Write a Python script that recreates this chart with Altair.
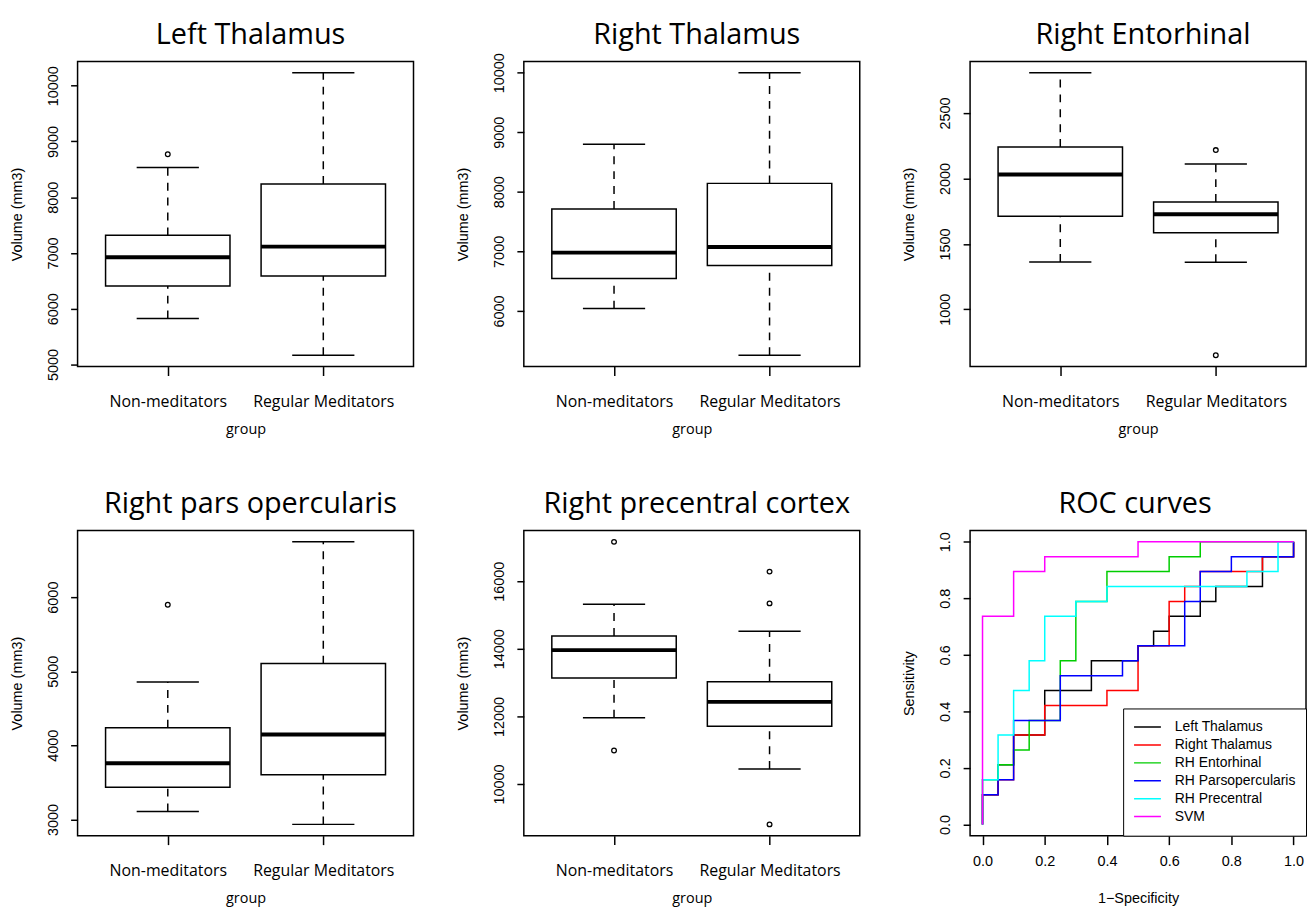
import altair as alt
import pandas as pd

# ---------------- data ----------------
GROUPS = ["Non-meditators", "Regular Meditators"]
GROUP_POS = [1, 2]

# box statistics: [lower whisker, Q1, median, Q3, upper whisker]
LT_NM = [5825, 6407, 6924, 7316, 8533]
LT_RM = [5166, 6586, 7114, 8236, 10232]
LT_OUT_NM = [8771]
LT_OUT_RM = []

RT_NM = [6039, 6545, 6979, 7713, 8798]
RT_RM = [5255, 6762, 7074, 8142, 10000]
RT_OUT_NM = []
RT_OUT_RM = []

RE_NM = [1362, 1711, 2030, 2240, 2808]
RE_RM = [1360, 1585, 1726, 1820, 2111]
RE_OUT_NM = []
RE_OUT_RM = [2217, 649]

PO_NM = [3107, 3433, 3759, 4237, 4853]
PO_RM = [2933, 3603, 4147, 5103, 6746]
PO_OUT_NM = [5897]
PO_OUT_RM = []

PC_NM = [11961, 13139, 13961, 14382, 15315]
PC_RM = [10443, 11706, 12430, 13027, 14519]
PC_OUT_NM = [17164, 10992]
PC_OUT_RM = [16284, 15344, 8806]

LT_TICKS = [5000, 6000, 7000, 8000, 9000, 10000]
RT_TICKS = [6000, 7000, 8000, 9000, 10000]
RE_TICKS = [1000, 1500, 2000, 2500]
PO_TICKS = [3000, 4000, 5000, 6000]
PC_TICKS = [10000, 12000, 14000, 16000]
ROC_TICKS = [0.0, 0.2, 0.4, 0.6, 0.8, 1.0]

# ROC curves (1 - specificity, sensitivity)
CURVES = ["Left Thalamus", "Right Thalamus", "RH Entorhinal",
          "RH Parsopercularis", "RH Precentral", "SVM"]
COLORS = ["#000000", "#FF0000", "#00CD00", "#0000FF", "#00FFFF", "#FF00FF"]

LT_FPR = [0, 0, .05, .05, .10, .10, .20, .20, .35, .35, .50, .50, .55, .55,
          .60, .60, .70, .70, .75, .75, .90, .90, .90, 1.0, 1.0]
LT_TPR = [0, .105, .105, .211, .211, .316, .316, .474, .474, .579, .579, .632,
          .632, .684, .684, .737, .737, .789, .789, .842, .842, .895, .947, .947, 1.0]

RT_FPR = [0, 0, .05, .05, .10, .10, .20, .20, .40, .40, .50, .50, .60, .60,
          .65, .65, .70, .70, .90, .90, 1.0, 1.0]
RT_TPR = [0, .105, .105, .158, .158, .316, .316, .421, .421, .474, .474, .632,
          .632, .789, .789, .842, .842, .895, .895, .947, .947, 1.0]

RE_FPR = [0, 0, .05, .05, .10, .10, .15, .15, .25, .25, .30, .30, .40, .40,
          .60, .60, .70, .70, 1.0]
RE_TPR = [0, .158, .158, .211, .211, .263, .263, .368, .368, .579, .579, .789,
          .789, .895, .895, .947, .947, 1.0, 1.0]

PO_FPR = [0, 0, .05, .05, .10, .10, .25, .25, .45, .45, .50, .50, .65, .65,
          .70, .70, .80, .80, 1.0, 1.0]
PO_TPR = [0, .105, .105, .158, .158, .368, .368, .526, .526, .579, .579, .632,
          .632, .789, .789, .895, .895, .947, .947, 1.0]

PC_FPR = [0, 0, .05, .05, .10, .10, .15, .15, .20, .20, .30, .30, .40, .40,
          .85, .85, .95, .95, 1.0]
PC_TPR = [0, .158, .158, .316, .316, .474, .474, .579, .579, .737, .737, .789,
          .789, .842, .842, .895, .895, 1.0, 1.0]

SVM_FPR = [0, 0, .10, .10, .20, .20, .50, .50, 1.0]
SVM_TPR = [0, .737, .737, .895, .895, .947, .947, 1.0, 1.0]

# ---------------- style ----------------
HELV = "Liberation Sans"
CALI = "Open Sans"
W, H = 338, 307
BOX_HALF = 0.4
CAP_HALF = 0.2
EXT = 0.04
LW = 1.5


def extend(lo, hi):
    d = (hi - lo) * EXT
    return [lo - d, hi + d]


def y_axis(ticks, fmt, title):
    return alt.Axis(values=ticks, format=fmt, title=title,
                    labelAngle=270, labelAlign="center", labelBaseline="bottom",
                    labelFont=HELV, labelFontSize=14.5, titleFont=HELV,
                    titleFontSize=14.5, tickSize=7, labelPadding=10.5,
                    minExtent=32, maxExtent=32, titlePadding=21.5,
                    labelOverlap=False, labelFlush=False, labelBound=False)


def title_params(text, offset=12, dx=5):
    return alt.TitleParams(text=text, font=CALI, fontSize=29, fontWeight="normal",
                           color="black", offset=offset, dx=dx, frame="group",
                           anchor="middle")


def box_panel(title, nm, rm, out_nm, out_rm, ticks, toff=12, xtpad=13):
    stats = pd.DataFrame({
        "pos": GROUP_POS,
        "lo": [nm[0], rm[0]], "q1": [nm[1], rm[1]], "med": [nm[2], rm[2]],
        "q3": [nm[3], rm[3]], "hi": [nm[4], rm[4]],
    })
    outs = pd.DataFrame({
        "pos": [GROUP_POS[0]] * len(out_nm) + [GROUP_POS[1]] * len(out_rm),
        "v": list(out_nm) + list(out_rm),
    })
    allv = list(nm) + list(rm) + list(out_nm) + list(out_rm)
    xs = alt.Scale(domain=extend(0.5, 2.5), nice=False, zero=False)
    ys = alt.Scale(domain=extend(min(allv), max(allv)), nice=False, zero=False)
    label_expr = "[" + ",".join("'%s'" % g for g in GROUPS) + "][datum.value - 1]"
    xaxis = alt.Axis(values=GROUP_POS, labelExpr=label_expr, title="group",
                     labelFont=CALI, labelFontSize=16, titleFont=CALI,
                     titleFontSize=14.5, tickSize=9, labelPadding=18,
                     minExtent=43, maxExtent=43, titlePadding=xtpad,
                     labelFlush=False, labelOverlap=False, labelBound=False)
    yaxis = y_axis(ticks, "d", "Volume (mm3)")

    def X(f):
        return alt.X(f, scale=xs, axis=xaxis)

    def Y(f):
        return alt.Y(f, scale=ys, axis=yaxis)

    base = alt.Chart(stats).transform_calculate(
        bl=f"datum.pos - {BOX_HALF}", br=f"datum.pos + {BOX_HALF}",
        cl=f"datum.pos - {CAP_HALF}", cr=f"datum.pos + {CAP_HALF}",
    )
    dash = [8, 7]
    wh_up = base.mark_rule(color="black", strokeWidth=LW, strokeDash=dash).encode(
        x=X("pos:Q"), y=Y("q3:Q"), y2="hi:Q")
    wh_lo = base.mark_rule(color="black", strokeWidth=LW, strokeDash=dash).encode(
        x=X("pos:Q"), y=Y("lo:Q"), y2="q1:Q")
    cap_up = base.mark_rule(color="black", strokeWidth=LW).encode(
        x=X("cl:Q"), x2="cr:Q", y=Y("hi:Q"))
    cap_lo = base.mark_rule(color="black", strokeWidth=LW).encode(
        x=X("cl:Q"), x2="cr:Q", y=Y("lo:Q"))
    box = base.mark_rect(fill="white", stroke="black", strokeWidth=LW).encode(
        x=X("bl:Q"), x2="br:Q", y=Y("q1:Q"), y2="q3:Q")
    med = base.mark_rule(color="black", strokeWidth=4).encode(
        x=X("bl:Q"), x2="br:Q", y=Y("med:Q"))
    pts = alt.Chart(outs).mark_point(shape="circle", filled=False, size=22,
                                     color="black", strokeWidth=1.3, opacity=1).encode(
        x=X("pos:Q"), y=Y("v:Q"))
    return alt.layer(wh_up, wh_lo, cap_up, cap_lo, box, med, pts).properties(
        width=W, height=H, title=title_params(title, offset=toff))


def roc_panel(xtpad=22):
    series = [(LT_FPR, LT_TPR), (RT_FPR, RT_TPR), (RE_FPR, RE_TPR),
              (PO_FPR, PO_TPR), (PC_FPR, PC_TPR), (SVM_FPR, SVM_TPR)]
    rows = []
    for name, (fx, ty) in zip(CURVES, series):
        for i, (a, b) in enumerate(zip(fx, ty)):
            rows.append({"curve": name, "fpr": a, "tpr": b, "step": i})
    df = pd.DataFrame(rows)
    xs = alt.Scale(domain=extend(0, 1), nice=False, zero=False)
    ys = alt.Scale(domain=extend(0, 1), nice=False, zero=False)
    cs = alt.Scale(domain=CURVES, range=COLORS)
    xaxis = alt.Axis(values=ROC_TICKS, format=".1f", title="1\u2212Specificity",
                     labelFont=HELV, labelFontSize=14.5, titleFont=HELV,
                     titleFontSize=14.5, tickSize=9, labelPadding=10.5,
                     minExtent=34, maxExtent=34, titlePadding=xtpad,
                     labelFlush=False, labelOverlap=False, labelBound=False)
    yaxis = y_axis(ROC_TICKS, ".1f", "Sensitivity")
    legend = alt.Legend(title=None, orient="bottom-right", offset=0,
                        strokeColor="black", fillColor="white", padding=10,
                        cornerRadius=0, symbolType="stroke", symbolSize=729,
                        symbolStrokeWidth=1.5, labelFont=HELV, labelFontSize=14,
                        labelColor="black", labelOffset=13, clipHeight=17.5,
                        rowPadding=0)
    layers = []
    for name in CURVES:
        layers.append(
            alt.Chart(df).transform_filter(alt.datum.curve == name)
            .mark_line(strokeWidth=1.5, interpolate="linear")
            .encode(
                x=alt.X("fpr:Q", scale=xs, axis=xaxis),
                y=alt.Y("tpr:Q", scale=ys, axis=yaxis),
                color=alt.Color("curve:N", scale=cs, legend=legend),
                order=alt.Order("step:Q"),
            )
        )
    return alt.layer(*layers).properties(width=W, height=H,
                                         title=title_params("ROC curves", dx=-3))


p1 = box_panel("Left Thalamus", LT_NM, LT_RM, LT_OUT_NM, LT_OUT_RM, LT_TICKS)
# the top tick label of this panel reaches above the frame; keep title at same height
p2 = box_panel("Right Thalamus", RT_NM, RT_RM, RT_OUT_NM, RT_OUT_RM, RT_TICKS, toff=3)
p3 = box_panel("Right Entorhinal", RE_NM, RE_RM, RE_OUT_NM, RE_OUT_RM, RE_TICKS)
p4 = box_panel("Right pars opercularis", PO_NM, PO_RM, PO_OUT_NM, PO_OUT_RM, PO_TICKS)
p5 = box_panel("Right precentral cortex", PC_NM, PC_RM, PC_OUT_NM, PC_OUT_RM, PC_TICKS)
p6 = roc_panel()

row1 = alt.hconcat(p1, p2, p3, spacing=40)
row2 = alt.hconcat(p4, p5, p6, spacing=40).resolve_scale(color="independent").resolve_legend(color="independent")

chart = (
    alt.vconcat(row1, row2, spacing=52)
    .resolve_scale(color="independent")
    .resolve_legend(color="independent")
    .properties(padding={"left": 0, "top": 9, "right": 0, "bottom": 0},
                background="white")
    .configure_view(stroke="black", strokeWidth=1.5)
    .configure_axis(domain=False, grid=False, tickColor="black", tickWidth=1.5,
                    labelColor="black", titleColor="black", titleFontWeight="normal")
)

chart.save("out.html", embed_options={"renderer": "svg", "actions": False})
